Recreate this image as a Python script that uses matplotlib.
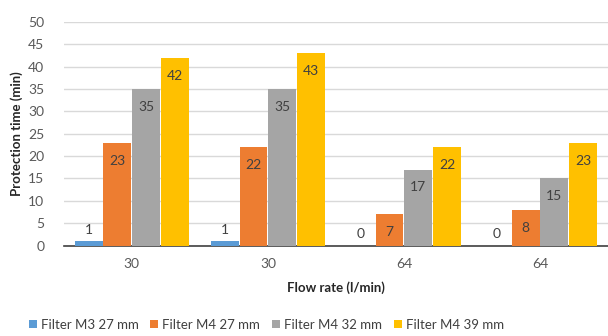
import matplotlib.pyplot as plt
import numpy as np

plt.rcParams['font.family'] = ['Lato', 'DejaVu Sans']

flow_rates = ["30", "30", "64", "64"]
series_names = ["Filter M3 27 mm", "Filter M4 27 mm", "Filter M4 32 mm", "Filter M4 39 mm"]
m3_27 = [1, 1, 0, 0]
m4_27 = [23, 22, 7, 8]
m4_32 = [35, 35, 17, 15]
m4_39 = [42, 43, 22, 23]
colors = ["#5B9BD5", "#ED7D31", "#A5A5A5", "#FFC000"]

fig = plt.figure(figsize=(6.08, 3.36), dpi=100)
ax = fig.add_axes([0.105, 0.269, 0.895, 0.666])

x = np.arange(len(flow_rates))
width = 0.205
step = 0.212
all_series = [m3_27, m4_27, m4_32, m4_39]
for i, (vals, name, c) in enumerate(zip(all_series, series_names, colors)):
    pos = x + (i - 1.5) * step
    ax.bar(pos, vals, width, color=c, label=name, zorder=3)
    for p, v in zip(pos, vals):
        # tiny bars get their label above, the rest inside near the top
        if v <= 2:
            ax.text(p, v + 2.5, str(v), ha='center', va='center', fontsize=10, color='#404040')
        else:
            ax.text(p, v - 4.0, str(v), ha='center', va='center', fontsize=10, color='#404040')

ax.set_xlim(-0.5, 3.5)
ax.set_ylim(0, 50)
ax.set_yticks(range(0, 51, 5))
ax.set_xticks(x)
ax.set_xticklabels(flow_rates)
ax.grid(axis='y', color='#D9D9D9', linewidth=1, zorder=0)
for s in ['top', 'right', 'left']:
    ax.spines[s].set_visible(False)
ax.spines['bottom'].set_color('#404040')
ax.spines['bottom'].set_linewidth(1.2)
ax.tick_params(axis='both', length=0, labelsize=10, labelcolor='#595959')
ax.tick_params(axis='x', pad=9)
ax.tick_params(axis='y', pad=14)

ax.set_ylabel("Protection time (min)", fontsize=9.5, fontweight='bold', color='#262626', labelpad=4)
ax.set_xlabel("Flow rate (l/min)", fontsize=9.5, fontweight='bold', color='#262626', labelpad=8)

fig.legend(loc='center', bbox_to_anchor=(0.438, 0.033), ncol=4, frameon=False,
           fontsize=9.5, handlelength=0.6, handleheight=0.6, handletextpad=0.3,
           columnspacing=0.9, labelcolor='#404040', borderpad=0)

fig.savefig("out.png", dpi=100)
